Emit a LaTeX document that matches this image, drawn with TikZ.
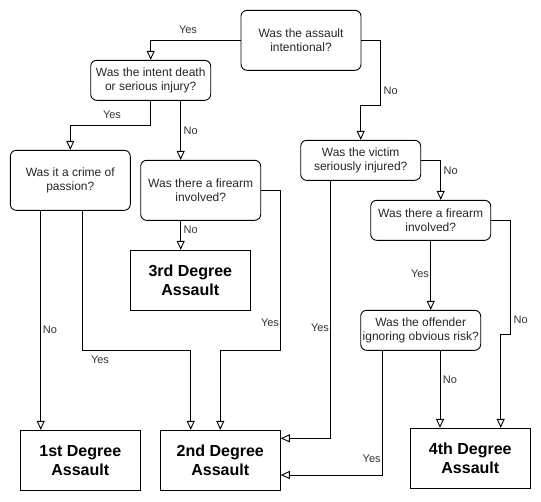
\documentclass[tikz,border=0pt]{standalone}
\usepackage{fontspec}
\setmainfont{Liberation Sans}
\usetikzlibrary{arrows.meta}
\begin{document}
\begin{tikzpicture}[x=1pt,y=-1pt,
  q/.style={draw, rounded corners=6pt, minimum width=120pt, inner sep=0pt, align=center, text=black!85, font=\fontsize{12}{14}\selectfont, line width=0.9pt},
  q4/.style={q, minimum height=40pt},
  q6/.style={q, minimum height=60pt},
  res/.style={draw, minimum width=120pt, minimum height=60pt, inner sep=0pt, align=center, font=\fontsize{16}{19}\selectfont\bfseries, line width=0.9pt},
  lbl/.style={font=\fontsize{11}{13}\selectfont, text=black!80, inner sep=0pt},
  con/.style={line width=0.9pt, -{Triangle[open, length=9pt, width=8pt]}}]
\useasboundingbox (0,0) rectangle (541,501);

\node[q6] (A) at (301,40.3) {Was the assault\\intentional?};
\node[q4] (B) at (150.7,80.3) {Was the intent death\\or serious injury?};
\node[q6] (C) at (70.3,180.3) {Was it a crime of\\passion?};
\node[q6] (D) at (200.7,190.3) {Was there a firearm\\involved?};
\node[res] (R3) at (190.3,280.3) {3rd Degree\\Assault};
\node[res] (R1) at (80.3,460.3) {1st Degree\\Assault};
\node[res] (R2) at (220.3,460.3) {2nd Degree\\Assault};
\node[q4] (E) at (360.7,160.3) {Was the victim\\seriously injured?};
\node[q4] (F) at (430.7,220.3) {Was there a firearm\\involved?};
\node[q4] (G) at (420.7,330.3) {Was the offender\\ignoring obvious risk?};
\node[res] (R4) at (470.3,458.3) {4th Degree\\Assault};

\draw[con] (A.west) -| (B.north);
\draw[con] (A.east) -| (380.7,105.3) -| (E.north);
\draw[con] (B.south) -- (150.7,125) -| (C.north);
\draw[con] ([xshift=30]B.south) -- ([xshift=30]B.south |- D.north);
\draw[con] ([xshift=-20]D.south) -- ([xshift=-20]D.south |- R3.north);
\draw[con] (D.east) -| (280,350) -| (R2.north);
\draw[con] ([xshift=-29.6]C.south) -- ([xshift=-29.6]C.south |- R1.north);
\draw[con] ([xshift=12.4]C.south) |- (190.7,350) -- ([xshift=-29.6]R2.north);
\draw[con] ([xshift=-30]E.south) |- ([yshift=22]R2.east);
\draw[con] (E.east) -| ([xshift=10]F.north);
\draw[con] (F.south) -- (F.south |- G.north);
\draw[con] (F.east) -| (510,334) -| ([xshift=30.4]R4.north);
\draw[con] ([xshift=19.3]G.south) -- ([xshift=19.3]G.south |- R4.north);
\draw[con] ([xshift=-38]G.south) |- ([yshift=-14.7]R2.east);

\node[lbl] (l1) at (188,30) {Yes};
\node[lbl] (l2) at (390.7,90.7) {No};
\node[lbl] (l3) at (112,115) {Yes};
\node[lbl] (l4) at (190.7,131) {No};
\node[lbl] (l5) at (190.7,230) {No};
\node[lbl] (l6) at (450.7,171) {No};
\node[lbl] (l7) at (270,323) {Yes};
\node[lbl] (l8) at (50,330) {No};
\node[lbl] (l9) at (100,360) {Yes};
\node[lbl] (l10) at (320,328) {Yes};
\node[lbl] (l11) at (420,273.3) {Yes};
\node[lbl] (l12) at (520.7,319.3) {No};
\node[lbl] (l13) at (450,380) {No};
\node[lbl] (l14) at (371.7,458.3) {Yes};
\end{tikzpicture}
\end{document}
